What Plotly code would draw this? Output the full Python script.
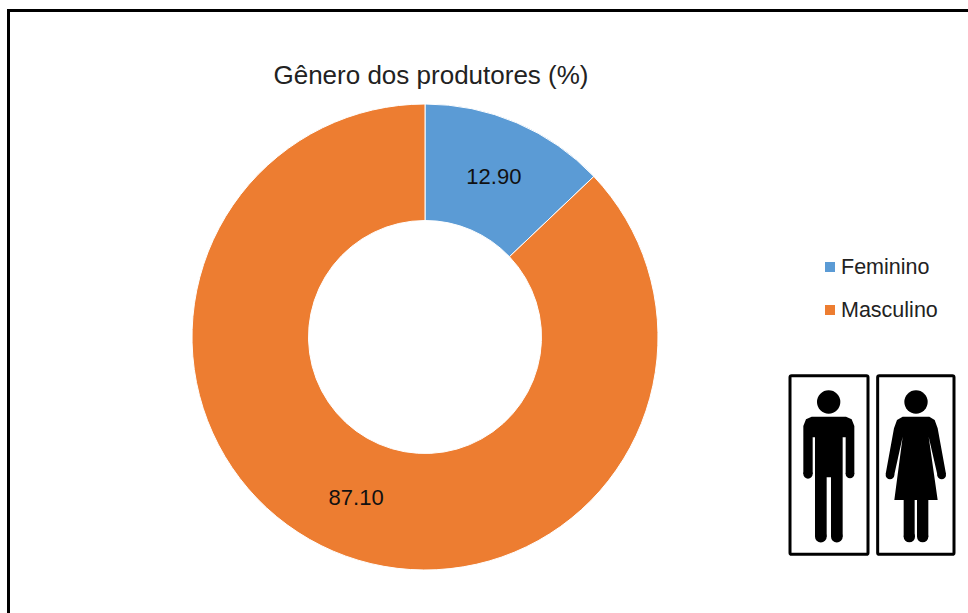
import plotly.graph_objects as go

W, H = 968, 613
categories = ["Feminino", "Masculino"]
values = [12.90, 87.10]
colors = ["#5B9BD5", "#ED7D31"]
title_text = "Gênero dos produtores (%)"

CX, CY, R = 425, 337, 233
px = lambda x: x / W
py = lambda y: 1 - y / H


def zx(x):
    return px(770 + x / 3)


def zy(y):
    return py(240 + y / 3)


def zoom_path(points):
    """Path in paper coordinates from positions measured on the 3x icon crop."""
    parts = [f"{'M' if i == 0 else 'L'}{zx(x):.5f},{zy(y):.5f}" for i, (x, y) in enumerate(points)]
    return " ".join(parts) + " Z"


def dot(x, y, r):
    return dict(type="circle", xref="paper", yref="paper", x0=zx(x - r), x1=zx(x + r), y0=zy(y + r), y1=zy(y - r),
                fillcolor="black", line_width=0)


def rounded_box(x0, y0, x1, y1, r=5):
    path = (f"M{zx(x0 + r):.5f},{zy(y0):.5f} L{zx(x1 - r):.5f},{zy(y0):.5f} "
            f"Q{zx(x1):.5f},{zy(y0):.5f} {zx(x1):.5f},{zy(y0 + r):.5f} "
            f"L{zx(x1):.5f},{zy(y1 - r):.5f} Q{zx(x1):.5f},{zy(y1):.5f} {zx(x1 - r):.5f},{zy(y1):.5f} "
            f"L{zx(x0 + r):.5f},{zy(y1):.5f} Q{zx(x0):.5f},{zy(y1):.5f} {zx(x0):.5f},{zy(y1 - r):.5f} "
            f"L{zx(x0):.5f},{zy(y0 + r):.5f} Q{zx(x0):.5f},{zy(y0):.5f} {zx(x0 + r):.5f},{zy(y0):.5f} Z")
    return dict(type="path", xref="paper", yref="paper", path=path, line=dict(color="black", width=3))


man_body = [(125, 530), (228, 530), (245, 538), (253, 558), (253, 702), (227, 702), (227, 592),
            (218, 592), (218, 890), (183, 890), (183, 712), (170, 712), (170, 890),
            (135, 890), (135, 592), (128, 592), (128, 702), (100, 702), (100, 558), (108, 538)]
woman_body = [(398, 530), (478, 530), (494, 540), (503, 565), (528, 702), (503, 708), (476, 590),
              (503, 780), (475, 780), (475, 890), (441, 890), (441, 780), (434, 780), (434, 890),
              (401, 890), (401, 780), (373, 780), (398, 590), (372, 708), (347, 702),
              (372, 565), (381, 540)]

shapes = [
    dict(type="line", xref="paper", yref="paper", x0=px(8.5), x1=px(8.5), y0=py(10.5), y1=0,
         line=dict(color="black", width=3)),
    dict(type="line", xref="paper", yref="paper", x0=px(7), x1=1, y0=py(10.5), y1=py(10.5),
         line=dict(color="black", width=3)),
    dict(type="rect", xref="paper", yref="paper", x0=px(825), x1=px(835), y0=py(262), y1=py(272),
         fillcolor=colors[0], line_width=0),
    dict(type="rect", xref="paper", yref="paper", x0=px(825), x1=px(835), y0=py(305), y1=py(315),
         fillcolor=colors[1], line_width=0),
    rounded_box(60, 407, 294, 943),
    rounded_box(323, 407, 552, 943),
    dot(176, 486, 35), dot(438, 486, 35),
    dict(type="path", xref="paper", yref="paper", path=zoom_path(man_body), fillcolor="black", line_width=0),
    dict(type="path", xref="paper", yref="paper", path=zoom_path(woman_body), fillcolor="black", line_width=0),
    dot(114, 702, 14), dot(240, 702, 13), dot(152.5, 890, 17.5), dot(200.5, 890, 17.5),
    dot(360, 705, 13), dot(515, 705, 13), dot(418, 890, 17), dot(458, 890, 17),
]

legend_font = dict(family="Liberation Sans", size=21.5, color="#222222")
annotations = [
    dict(text=categories[0], x=px(839), y=py(267), xref="paper", yref="paper", xanchor="left", yanchor="middle",
         showarrow=False, font=legend_font),
    dict(text=categories[1], x=px(839), y=py(310), xref="paper", yref="paper", xanchor="left", yanchor="middle",
         showarrow=False, font=legend_font),
]

fig = go.Figure(go.Pie(
    labels=categories, values=values, hole=0.5, sort=False, direction="clockwise", rotation=0,
    marker=dict(colors=colors, line=dict(color="white", width=1)),
    texttemplate="%{value:.2f}", textposition="inside", insidetextorientation="horizontal",
    textfont=dict(family="Liberation Sans", size=22, color="#111111"),
    domain=dict(x=[px(CX - R), px(CX + R)], y=[py(CY + R), py(CY - R)]),
    showlegend=False,
))
fig.update_layout(
    width=W, height=H, margin=dict(l=0, r=0, t=0, b=0), paper_bgcolor="white",
    title=dict(text=title_text, x=431 / W, xanchor="center", y=py(75), yanchor="middle",
               font=dict(family="Liberation Sans", size=26, color="#222222")),
    shapes=shapes, annotations=annotations,
)
fig.write_html("out.html", post_script="document.body.style.margin='0';", config=dict(displayModeBar=False))
